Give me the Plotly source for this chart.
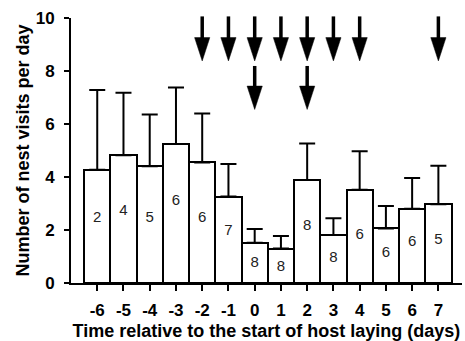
import plotly.graph_objects as go

days = [-6, -5, -4, -3, -2, -1, 0, 1, 2, 3, 4, 5, 6, 7]
means = [4.27, 4.82, 4.41, 5.25, 4.55, 3.26, 1.52, 1.30, 3.89, 1.81, 3.52, 2.06, 2.80, 2.97]
upper = [7.28, 7.18, 6.36, 7.38, 6.40, 4.49, 2.04, 1.77, 5.26, 2.44, 4.97, 2.91, 3.96, 4.42]
n_labels = [2, 4, 5, 6, 6, 7, 8, 8, 8, 8, 6, 6, 6, 5]
label_y = [2.45, 2.69, 2.45, 3.07, 2.45, 1.96, 0.76, 0.58, 2.15, 0.95, 1.81, 1.14, 1.52, 1.62]
arrow_row1 = [-2, -1, 0, 1, 2, 3, 4, 7]
arrow_row2 = [0, 2]
y_ticks = [0, 2, 4, 6, 8, 10]

err_plus = [u - m for u, m in zip(upper, means)]
FONT = "Arial, Liberation Sans, sans-serif"

fig = go.Figure()
fig.add_trace(go.Bar(
    x=days, y=means, width=1,
    marker=dict(color="white", line=dict(color="black", width=2)),
    error_y=dict(type="data", symmetric=False, array=err_plus,
                 arrayminus=[0] * len(days), color="black", thickness=2, width=8),
    showlegend=False,
))
fig.add_trace(go.Scatter(
    x=days, y=label_y, mode="text", text=[str(v) for v in n_labels],
    textfont=dict(family=FONT, size=15, color="#222"), showlegend=False,
    hoverinfo="skip",
))

# arrows (paper y = value/10 since y-range is [0,10])
YMAX = 10.0
def add_arrow(xd, top, base, tip, hw=0.29):
    fig.add_shape(type="line", xref="x", yref="paper", x0=xd, x1=xd,
                  y0=top / YMAX, y1=(base - 0.1) / YMAX,
                  line=dict(color="black", width=3.5))
    path = (f"M {xd - hw},{base / YMAX} L {xd + hw},{base / YMAX} "
            f"L {xd},{tip / YMAX} Z")
    fig.add_shape(type="path", xref="x", yref="paper", path=path,
                  fillcolor="black", line=dict(color="black", width=0.5))

for d in arrow_row1:
    add_arrow(d, 10.06, 9.26, 8.38)
for d in arrow_row2:
    add_arrow(d, 8.19, 7.43, 6.55)

fig.update_layout(
    width=465, height=341,
    margin=dict(l=71, r=3, t=18, b=58),
    plot_bgcolor="white", paper_bgcolor="white",
    font=dict(family=FONT, color="black"),
    bargap=0,
)
fig.update_xaxes(
    range=[-7.0, 7.9], tickmode="array", tickvals=days,
    ticktext=[str(d) for d in days],
    showline=True, linecolor="black", linewidth=2,
    ticks="outside", ticklen=6, tickwidth=2, tickcolor="black",
    showgrid=False, zeroline=False, ticklabelstandoff=5,
    tickfont=dict(family=FONT, size=17, weight="bold"),
    title=dict(text="Time relative to the start of host laying (days)",
               font=dict(family=FONT, size=18, weight="bold"), standoff=6),
)
fig.update_yaxes(
    range=[0, 10], tickmode="array", tickvals=y_ticks,
    showline=True, linecolor="black", linewidth=2,
    ticks="outside", ticklen=5, tickwidth=2, tickcolor="black",
    showgrid=False, zeroline=False, ticklabelstandoff=6,
    tickfont=dict(family=FONT, size=17, weight="bold"),
    title=dict(text="Number of nest visits per day",
               font=dict(family=FONT, size=18, weight="bold"), standoff=1),
)

fig.write_html("out.html")
